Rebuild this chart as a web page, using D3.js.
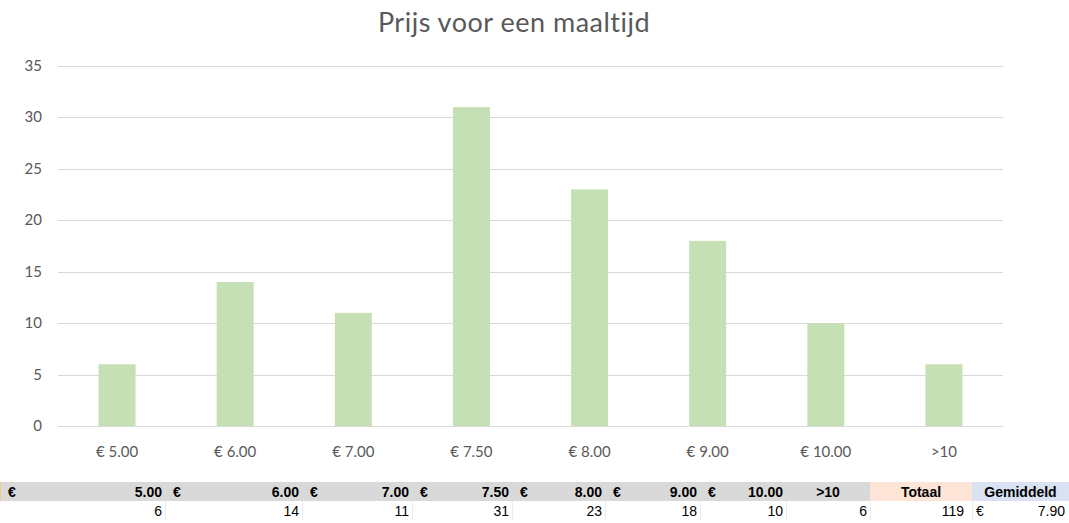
<!DOCTYPE html>
<html>
<head>
<meta charset="utf-8">
<script src="https://cdn.jsdelivr.net/npm/d3@7"></script>
<style>
  body { margin: 0; background: #fff; }
  svg { display: block; }
</style>
</head>
<body>
<div id="chart"></div>
<script>
// Chart data
var categories = ["€ 5.00", "€ 6.00", "€ 7.00", "€ 7.50", "€ 8.00", "€ 9.00", "€ 10.00", ">10"];
var counts = [6, 14, 11, 31, 23, 18, 10, 6];
var yTicks = [0, 5, 10, 15, 20, 25, 30, 35];

// Table data (below the chart)
var tablePrices = ["5.00", "6.00", "7.00", "7.50", "8.00", "9.00", "10.00", ">10"];
var tableCounts = [6, 14, 11, 31, 23, 18, 10, 6];
var totalLabel = "Totaal", totalValue = 119;
var avgLabel = "Gemiddeld", avgValue = "7.90";

var W = 1069, H = 523;
var svg = d3.select("#chart").append("svg")
  .attr("width", W)
  .attr("height", H);

var font = "Lato, 'Open Sans', sans-serif";

// Title
svg.append("text")
  .attr("x", 514)
  .attr("y", 32)
  .attr("text-anchor", "middle")
  .attr("font-family", font)
  .attr("font-size", 27)
  .attr("letter-spacing", 0.5)
  .attr("fill", "#595959")
  .text("Prijs voor een maaltijd");

// Scales
var x = d3.scaleBand()
  .domain(categories)
  .range([58, 1003])
  .paddingInner(0.687)
  .paddingOuter(0.3435);

var y = d3.scaleLinear()
  .domain([0, 35])
  .range([426, 66]);

// Gridlines
svg.append("g")
  .selectAll("line")
  .data(yTicks)
  .enter().append("line")
  .attr("x1", 58).attr("x2", 1003)
  .attr("y1", function(d) { return Math.round(y(d)) + 0.5; })
  .attr("y2", function(d) { return Math.round(y(d)) + 0.5; })
  .attr("stroke", "#d9d9d9")
  .attr("stroke-width", 1);

// Y axis labels
svg.append("g")
  .selectAll("text")
  .data(yTicks)
  .enter().append("text")
  .attr("x", 42)
  .attr("y", function(d) { return y(d) + 5; })
  .attr("text-anchor", "end")
  .attr("font-family", font)
  .attr("font-size", 15)
  .attr("fill", "#595959")
  .text(function(d) { return d; });

// Bars
svg.append("g")
  .selectAll("rect")
  .data(counts)
  .enter().append("rect")
  .attr("x", function(d, i) { return x(categories[i]); })
  .attr("y", function(d) { return y(d); })
  .attr("width", x.bandwidth())
  .attr("height", function(d) { return y(0) - y(d); })
  .attr("fill", "#c5e0b4");

// X axis labels
svg.append("g")
  .selectAll("text")
  .data(categories)
  .enter().append("text")
  .attr("x", function(d) { return x(d) + x.bandwidth() / 2; })
  .attr("y", 457)
  .attr("text-anchor", "middle")
  .attr("font-family", font)
  .attr("font-size", 15)
  .attr("fill", "#595959")
  .text(function(d) { return d; });

///////////////////////////////////////////////////////////////////////////
/////////////////////////////// Table below ///////////////////////////////
///////////////////////////////////////////////////////////////////////////

var colEdges = [0, 165, 302, 412, 512, 605, 700, 786, 870, 972, 1069];
var headTop = 482, headH = 19, rowH = 19;
var tfont = "'Liberation Sans', Arial, sans-serif";
var tsize = 14;

var table = svg.append("g");

// header backgrounds
table.append("rect")
  .attr("x", colEdges[0]).attr("y", headTop)
  .attr("width", colEdges[8] - colEdges[0]).attr("height", headH)
  .attr("fill", "#d9d9d9");
table.append("rect")
  .attr("x", colEdges[8]).attr("y", headTop)
  .attr("width", colEdges[9] - colEdges[8]).attr("height", headH)
  .attr("fill", "#fce4d6");
table.append("rect")
  .attr("x", colEdges[9]).attr("y", headTop)
  .attr("width", colEdges[10] - colEdges[9]).attr("height", headH)
  .attr("fill", "#d9e1f2");
table.append("line")
  .attr("x1", 0.5).attr("x2", 0.5)
  .attr("y1", headTop).attr("y2", headTop + headH)
  .attr("stroke", "#f2c98a");

// data row separators
table.selectAll("line.sep")
  .data(colEdges.slice(1, 10))
  .enter().append("line")
  .attr("class", "sep")
  .attr("x1", function(d) { return d + 0.5; })
  .attr("x2", function(d) { return d + 0.5; })
  .attr("y1", headTop + headH)
  .attr("y2", headTop + headH + rowH)
  .attr("stroke", "#ececec");

var headY = headTop + 15, dataY = headTop + headH + 15;

// header cells: euro sign left, price right
tablePrices.forEach(function(p, i) {
  var l = colEdges[i], r = colEdges[i + 1];
  if (p.charAt(0) === ">") {
    table.append("text")
      .attr("x", (l + r) / 2).attr("y", headY)
      .attr("text-anchor", "middle")
      .attr("font-family", tfont).attr("font-size", tsize).attr("font-weight", "bold")
      .attr("fill", "#000")
      .text(p);
  } else {
    table.append("text")
      .attr("x", l + 8).attr("y", headY)
      .attr("font-family", tfont).attr("font-size", tsize).attr("font-weight", "bold")
      .attr("fill", "#000")
      .text("€");
    table.append("text")
      .attr("x", r - 3).attr("y", headY)
      .attr("text-anchor", "end")
      .attr("font-family", tfont).attr("font-size", tsize).attr("font-weight", "bold")
      .attr("fill", "#000")
      .text(p);
  }
  table.append("text")
    .attr("x", r - 3).attr("y", dataY)
    .attr("text-anchor", "end")
    .attr("font-family", tfont).attr("font-size", tsize)
    .attr("fill", "#000")
    .text(tableCounts[i]);
});

// Totaal / Gemiddeld
table.append("text")
  .attr("x", (colEdges[8] + colEdges[9]) / 2).attr("y", headY)
  .attr("text-anchor", "middle")
  .attr("font-family", tfont).attr("font-size", tsize).attr("font-weight", "bold")
  .text(totalLabel);
table.append("text")
  .attr("x", (colEdges[9] + colEdges[10]) / 2).attr("y", headY)
  .attr("text-anchor", "middle")
  .attr("font-family", tfont).attr("font-size", tsize).attr("font-weight", "bold")
  .text(avgLabel);
table.append("text")
  .attr("x", colEdges[9] - 8).attr("y", dataY)
  .attr("text-anchor", "end")
  .attr("font-family", tfont).attr("font-size", tsize)
  .text(totalValue);
table.append("text")
  .attr("x", colEdges[9] + 4).attr("y", dataY)
  .attr("font-family", tfont).attr("font-size", tsize)
  .text("€");
table.append("text")
  .attr("x", colEdges[10] - 4).attr("y", dataY)
  .attr("text-anchor", "end")
  .attr("font-family", tfont).attr("font-size", tsize)
  .text(avgValue);
</script>
</body>
</html>
